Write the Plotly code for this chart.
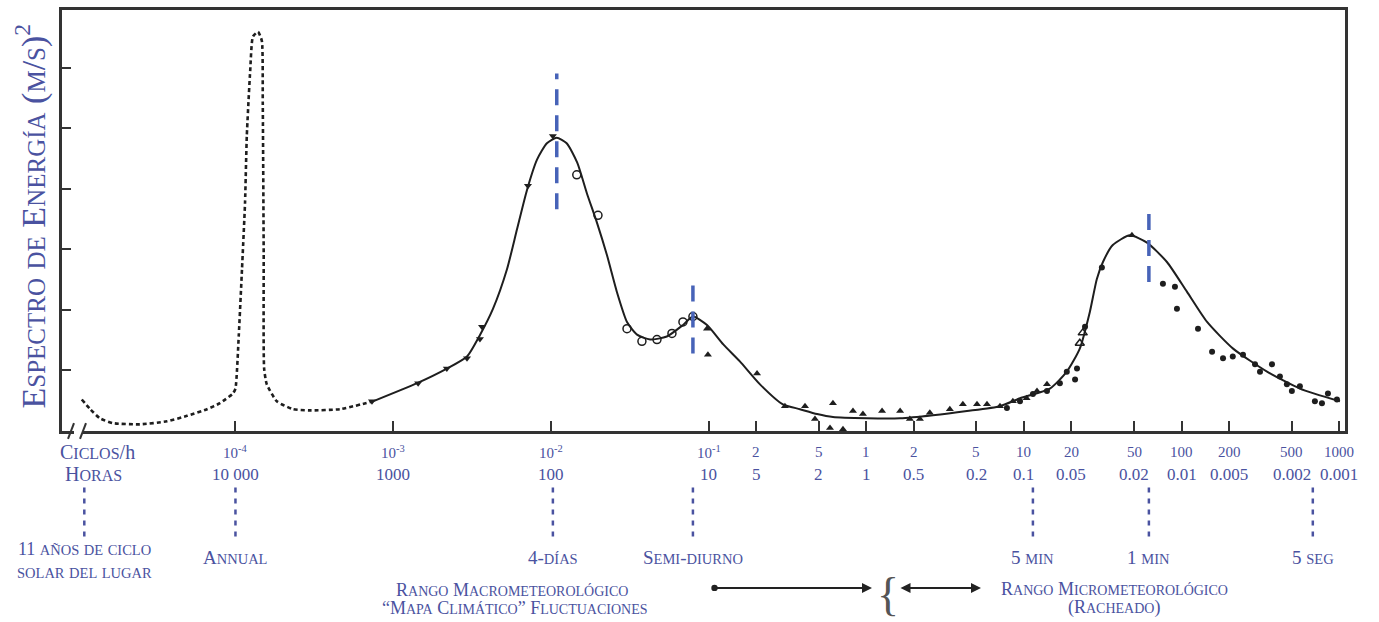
import math
import plotly.graph_objects as go

# ---------------- data (frequency in cycles/h, energy in arbitrary units) ----------------
dash_freq = [1.06e-5, 1.20e-5, 1.38e-5, 1.67e-5, 2.48e-5, 3.68e-5, 4.93e-5, 6.60e-5, 7.97e-5, 9.64e-5,
             1.00e-4, 1.05e-4, 1.10e-4, 1.15e-4, 1.18e-4, 1.24e-4, 1.29e-4, 1.39e-4, 1.47e-4, 1.49e-4,
             1.51e-4, 1.52e-4, 1.58e-4, 1.83e-4, 2.32e-4, 2.97e-4, 4.60e-4, 7.45e-4]
dash_energy = [0.52, 0.36, 0.21, 0.13, 0.11, 0.16, 0.25, 0.36, 0.46, 0.62,
               0.70, 1.59, 2.67, 3.77, 4.87, 5.95, 6.51, 6.59, 6.44, 5.41,
               2.95, 1.03, 0.77, 0.49, 0.36, 0.34, 0.36, 0.49]

solid_freq = [7.45e-4, 1.42e-3, 2.19e-3, 2.94e-3, 3.56e-3, 4.30e-3, 5.27e-3, 6.10e-3, 7.06e-3, 8.17e-3,
              9.44e-3, 1.09e-2, 1.26e-2, 1.47e-2, 1.69e-2, 1.96e-2, 2.27e-2, 2.62e-2, 3.04e-2, 3.52e-2,
              4.26e-2, 5.44e-2, 6.89e-2, 7.96e-2, 9.78e-2, 0.124, 0.158, 0.212, 0.296, 0.380,
              0.488, 0.615, 1.01, 1.64, 2.65, 4.35, 7.05, 9.44, 14.6, 18.7,
              22.6, 26.2, 29.0, 31.7, 36.6, 47.0, 60.3, 80.7, 108, 145,
              212, 348, 562, 1009]
solid_energy = [0.49, 0.79, 1.03, 1.23, 1.59, 2.02, 2.67, 3.33, 3.98, 4.48,
                4.75, 4.84, 4.75, 4.43, 3.93, 3.44, 2.90, 2.30, 1.80, 1.59,
                1.51, 1.56, 1.75, 1.89, 1.75, 1.43, 1.15, 0.77, 0.44, 0.36,
                0.28, 0.23, 0.21, 0.21, 0.26, 0.33, 0.41, 0.54, 0.70, 0.98,
                1.36, 1.97, 2.51, 2.79, 3.07, 3.23, 3.11, 2.79, 2.30, 1.80,
                1.36, 0.98, 0.70, 0.49]

tri_down_freq = [7.34e-4, 1.44e-3, 2.19e-3, 2.94e-3, 3.55e-3, 3.66e-3, 7.16e-3, 1.03e-2]
tri_down_energy = [0.49, 0.79, 1.03, 1.20, 1.52, 1.72, 4.05, 4.87]

open_circ_freq = [1.46e-2, 1.99e-2, 3.04e-2, 3.78e-2, 4.71e-2, 5.86e-2, 6.88e-2, 7.96e-2]
open_circ_energy = [4.23, 3.56, 1.69, 1.48, 1.51, 1.61, 1.80, 1.89]

tri_up_freq = [9.77e-2, 9.91e-2, 0.203, 0.305, 0.409, 0.473, 0.589, 0.712, 0.615, 0.824,
               0.953, 1.26, 1.64, 1.89, 2.19, 2.53, 3.39, 4.10, 5.04, 5.83,
               7.05, 8.51, 10.4, 12.1, 14.0, 48.4]
tri_up_energy = [1.69, 1.26, 0.95, 0.41, 0.41, 0.20, 0.05, 0.03, 0.46, 0.33,
                 0.28, 0.33, 0.33, 0.20, 0.20, 0.30, 0.36, 0.44, 0.44, 0.44,
                 0.41, 0.49, 0.54, 0.66, 0.77, 3.23]

tri_open_freq = [22.6, 23.6]
tri_open_energy = [1.45, 1.62]

dot_freq = [7.80, 9.44, 11.4, 14.0, 16.9, 18.7, 21.7, 21.1, 24.4, 31.2,
            76.1, 90.7, 93.4, 127, 156, 183, 211, 245, 292, 314,
            374, 420, 465, 500, 562, 700, 776, 847, 966]
dot_energy = [0.38, 0.49, 0.61, 0.66, 0.79, 0.98, 1.03, 0.85, 1.72, 2.70,
              2.43, 2.38, 2.02, 1.69, 1.31, 1.20, 1.23, 1.26, 1.10, 0.98,
              1.10, 0.90, 0.77, 0.66, 0.74, 0.49, 0.46, 0.62, 0.52]

# blue dashed marks on the peaks
peak_freq = [0.0109, 0.0796, 62.0]
peak_low = [3.66, 1.28, 2.46]
peak_high = [5.90, 2.52, 3.69]

# axis ticks
tick_freq = [1e-4, 1e-3, 1e-2, 1e-1, 0.2, 0.5, 1, 2, 5, 10, 20, 50, 100, 200, 500, 1000]
tick_cycles = ["10<sup>-4</sup>", "10<sup>-3</sup>", "10<sup>-2</sup>", "10<sup>-1</sup>", "2", "5", "1", "2",
               "5", "10", "20", "50", "100", "200", "500", "1000"]
tick_hours = ["10 000", "1000", "100", "10", "5", "2", "1", "0.5", "0.2", "0.1",
              "0.05", "0.02", "0.01", "0.005", "0.002", "0.001"]

# time-scale events below the axis
event_freq = [1.1e-5, 1e-4, 1.03e-2, 7.96e-2, 11.4, 62.0, 679.0]
event_labels = [None, "Annual", "4-días", "Semi-diurno", "5 min", "1 min", "5 seg"]

# ---------------- styling ----------------
TXT = "#4a52a0"
BLUE = "#4763b8"
INK = "#1e1e1e"
FONT = "Liberation Serif"


def sc(text, small):
    """small caps: lowercase letters become smaller capitals"""
    out, buf, mode = [], "", None
    for ch in text:
        m = "s" if (ch.isalpha() and ch.islower()) else "b"
        if mode is not None and m != mode:
            out.append(f'<span style="font-size:{small}px">{buf.upper()}</span>' if mode == "s" else buf)
            buf = ""
        buf += ch
        mode = m
    if buf:
        out.append(f'<span style="font-size:{small}px">{buf.upper()}</span>' if mode == "s" else buf)
    return "".join(out)


fig = go.Figure()

fig.add_trace(go.Scatter(x=dash_freq, y=dash_energy, mode="lines",
                         line=dict(color=INK, width=2.6, dash="4px,3px", shape="spline", smoothing=0.5),
                         hoverinfo="skip"))
fig.add_trace(go.Scatter(x=solid_freq, y=solid_energy, mode="lines",
                         line=dict(color=INK, width=2, shape="spline", smoothing=0.6), hoverinfo="skip"))

fig.add_trace(go.Scatter(x=tri_down_freq, y=tri_down_energy, mode="markers",
                         marker=dict(symbol="triangle-down", size=7, color=INK)))
fig.add_trace(go.Scatter(x=open_circ_freq, y=open_circ_energy, mode="markers",
                         marker=dict(symbol="circle-open", size=8, color=INK, line=dict(width=1.5))))
fig.add_trace(go.Scatter(x=tri_up_freq, y=tri_up_energy, mode="markers",
                         marker=dict(symbol="triangle-up", size=7, color=INK)))
fig.add_trace(go.Scatter(x=tri_open_freq, y=tri_open_energy, mode="markers",
                         marker=dict(symbol="triangle-up-open", size=8, color=INK, line=dict(width=1.5))))
fig.add_trace(go.Scatter(x=dot_freq, y=dot_energy, mode="markers",
                         marker=dict(symbol="circle", size=6, color=INK)))

for f, lo, hi in zip(peak_freq, peak_low, peak_high):
    fig.add_trace(go.Scatter(x=[f, f], y=[lo, hi], mode="lines",
                             line=dict(color=BLUE, width=3.5, dash="16px,10px"), hoverinfo="skip"))

ann = []


def label(x, xref, yshift, text, size, **kw):
    d = dict(x=x, xref=xref, y=0, yref="paper", yshift=yshift, xanchor="center", yanchor="middle",
             text=text, showarrow=False, font=dict(family=FONT, size=size, color=TXT))
    d.update(kw)
    ann.append(d)


# tick label rows
for f, c, h in zip(tick_freq, tick_cycles, tick_hours):
    label(math.log10(f), "x", -21, c, 15)
    label(math.log10(f), "x", -43, h, 17)

label((97 - 62) / 1283, "paper", -21, sc("Ciclos/", 16) + "h", 20)
label((93 - 62) / 1283, "paper", -43, sc("Horas", 16), 20)

# event labels
for f, lab in zip(event_freq, event_labels):
    if lab is None:
        continue
    label(math.log10(f), "x", -126, sc(lab, 14.5), 19)
label(math.log10(event_freq[0]), "x", -118, sc("11 años de ciclo", 14.5), 18)
label(math.log10(event_freq[0]), "x", -141, sc("solar del lugar", 14.5), 18)

# range texts
label((512 - 62) / 1283, "paper", -159, sc("Rango Macrometeorológico", 14), 18)
label((515 - 62) / 1283, "paper", -177, sc("\u201cMapa Climático\u201d Fluctuaciones", 14), 18)
label((1114 - 62) / 1283, "paper", -158, sc("Rango Micrometeorológico", 14), 18)
label((1114 - 62) / 1283, "paper", -176, sc("(Racheado)", 14), 18)

# arrows and brace
ya = (431 - 589) / 424
ann.append(dict(x=(872 - 62) / 1283, y=ya, xref="paper", yref="paper", ax=-(872 - 713), ay=0,
                axref="pixel", ayref="pixel", text="", showarrow=True, arrowside="end+start",
                arrowhead=2, startarrowhead=6, arrowsize=1, startarrowsize=0.8, arrowwidth=2, arrowcolor="#222"))
ann.append(dict(x=(981 - 62) / 1283, y=ya, xref="paper", yref="paper", ax=-(981 - 899), ay=0,
                axref="pixel", ayref="pixel", text="", showarrow=True, arrowside="end+start",
                arrowhead=2, startarrowhead=2, arrowsize=1, startarrowsize=1, arrowwidth=2, arrowcolor="#222"))
ann.append(dict(x=(888 - 62) / 1283, xref="paper", y=0, yref="paper", yshift=-163, xanchor="center",
                yanchor="middle", text="{", showarrow=False, font=dict(family=FONT, size=46, color="#555")))

# y-axis title
ann.append(dict(x=(31 - 62) / 1283, xref="paper", y=(431 - 215) / 424, yref="paper", textangle=-90,
                xanchor="center", yanchor="middle",
                text=sc("Espectro de Energía (m/s)", 25) + "<sup>2</sup>", showarrow=False,
                font=dict(family=FONT, size=34, color=TXT)))

shapes = []
# dotted connectors below axis
for f in event_freq:
    shapes.append(dict(type="line", xref="x", yref="paper", x0=f, x1=f,
                       y0=(431 - 488) / 424, y1=(431 - 540) / 424,
                       line=dict(color=TXT, width=2.5, dash="5px,6px")))
# axis break on the bottom-left
shapes.append(dict(type="rect", xref="paper", yref="paper", x0=(74 - 62) / 1283, x1=(82 - 62) / 1283,
                   y0=-0.008, y1=0.008, fillcolor="white", line=dict(width=0), layer="above"))
for px in (71, 83):
    shapes.append(dict(type="line", xref="paper", yref="paper", x0=(px - 3 - 62) / 1283, x1=(px + 3 - 62) / 1283,
                       y0=(431 - 439) / 424, y1=(431 - 423) / 424, line=dict(color="#333", width=2)))

fig.update_layout(
    width=1379, height=622,
    margin=dict(l=62, r=34, t=7, b=191),
    paper_bgcolor="white", plot_bgcolor="white",
    showlegend=False,
    annotations=ann, shapes=shapes,
    xaxis=dict(type="log", range=[-5.1, 3.036], showgrid=False, zeroline=False,
               showline=True, mirror=True, linecolor="#333", linewidth=2.5,
               tickmode="array", tickvals=tick_freq, showticklabels=False,
               ticks="inside", ticklen=10, tickwidth=1.5, tickcolor="#333"),
    yaxis=dict(range=[0, 6.95], showgrid=False, zeroline=False,
               showline=True, mirror=True, linecolor="#333", linewidth=2.5,
               tickmode="array", tickvals=[1, 2, 3, 4, 5, 6], showticklabels=False,
               ticks="inside", ticklen=9, tickwidth=2, tickcolor="#333"),
)

fig.write_html("out.html", config={"displayModeBar": False},
               post_script="document.body.style.margin='0px';document.body.style.overflow='hidden';")
